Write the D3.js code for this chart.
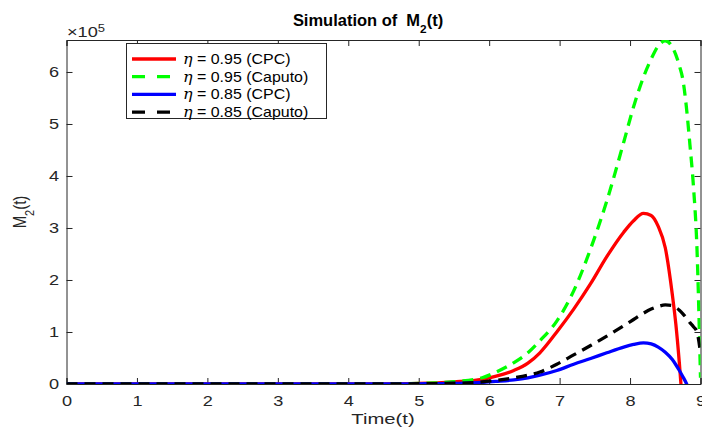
<!DOCTYPE html>
<html>
<head>
<meta charset="utf-8">
<script src="https://cdn.jsdelivr.net/npm/d3@7"></script>
<style>
  html, body { margin: 0; padding: 0; background: #fff; }
  svg { display: block; font-family: "Liberation Sans", Arial, Helvetica, sans-serif; }
  text { white-space: pre; }
</style>
</head>
<body>
<svg id="chart" width="702" height="427"></svg>
<script>
// Simulated M2(t), in units of 1e5
const time = [0, 1, 2, 3, 4, 4.5, 5, 5.5, 5.9, 6.1, 6.35, 6.55, 6.72, 6.96, 7.2, 7.44, 7.67, 7.91, 8.05, 8.19, 8.3, 8.4, 8.5, 8.6, 8.65, 8.7, 8.75, 8.8, 8.85, 8.9, 8.95, 9.0];
const cpc95    = [0, 0, 0, 0, 0.0005, 0.002, 0.01, 0.04, 0.09, 0.15, 0.26, 0.4, 0.6, 1.0, 1.44, 1.93, 2.45, 2.92, 3.14, 3.28, 3.24, 3.03, 2.62, 1.72, 1.15, 0.4, -0.5, -1.4, -2.3, -3.2, -4.1, -5.0];
const caputo95 = [0, 0, 0, 0, 0.0007, 0.003, 0.012, 0.045, 0.12, 0.23, 0.41, 0.6, 0.83, 1.21, 1.79, 2.6, 3.52, 4.65, 5.33, 5.9, 6.25, 6.5, 6.6, 6.48, 6.33, 6.12, 5.85, 5.32, 4.6, 3.8, 2.6, 0.12];
const cpc85    = [0, 0, 0, 0, 0.0002, 0.001, 0.004, 0.012, 0.03, 0.05, 0.08, 0.12, 0.17, 0.26, 0.38, 0.49, 0.6, 0.71, 0.76, 0.79, 0.77, 0.71, 0.61, 0.47, 0.37, 0.26, 0.14, 0.01, -0.16, -0.35, -0.55, -0.8];
const caputo85 = [0, 0, 0, 0, 0.0003, 0.001, 0.005, 0.014, 0.04, 0.07, 0.12, 0.17, 0.23, 0.38, 0.56, 0.74, 0.92, 1.12, 1.24, 1.36, 1.44, 1.49, 1.52, 1.51, 1.47, 1.42, 1.35, 1.27, 1.18, 1.1, 1.0, 0.6];

const seriesNames = ["\u03B7 = 0.95 (CPC)", "\u03B7 = 0.95 (Caputo)", "\u03B7 = 0.85 (CPC)", "\u03B7 = 0.85 (Caputo)"];
const seriesValues = [cpc95, caputo95, cpc85, caputo85];
const seriesColors = ["#ff0000", "#00ff00", "#0000ff", "#000000"];
const seriesDashed = [false, true, false, true];

const xTicks = [0, 1, 2, 3, 4, 5, 6, 7, 8, 9];
const yTicks = [0, 1, 2, 3, 4, 5, 6];

const svg = d3.select("#chart");
const plotLeft = 66.5, plotRight = 700.5, plotTop = 40, plotBottom = 384;
const axisColor = "#262626";
const wide = 1.25; // horizontal widening of the sans text

const x = d3.scaleLinear().domain([0, 9]).range([plotLeft, plotRight]);
const y = d3.scaleLinear().domain([0, 6.615]).range([plotBottom, plotTop]);

svg.append("defs").append("clipPath").attr("id", "plotClip")
  .append("rect").attr("x", plotLeft).attr("y", plotTop)
  .attr("width", plotRight - plotLeft).attr("height", plotBottom - plotTop);

// Axes with inward ticks on all four sides
const tickLen = 6;
const gx = svg.append("g").attr("transform", `translate(0,${plotBottom})`)
  .call(d3.axisBottom(x).tickValues(xTicks).tickSize(-tickLen).tickPadding(9).tickFormat(d3.format("d")));
svg.append("g").attr("transform", `translate(0,${plotTop})`)
  .call(d3.axisTop(x).tickValues(xTicks).tickSize(-tickLen).tickFormat(""));
const gy = svg.append("g").attr("transform", `translate(${plotLeft},0)`)
  .call(d3.axisLeft(y).tickValues(yTicks).tickSize(-tickLen).tickFormat(d3.format("d")));
svg.append("g").attr("transform", `translate(${plotRight},0)`)
  .call(d3.axisRight(y).tickValues(yTicks).tickSize(-tickLen).tickFormat(""));

svg.selectAll(".domain").attr("stroke", axisColor).attr("stroke-width", 1);
svg.selectAll(".tick line").attr("stroke", axisColor).attr("stroke-width", 1);
svg.selectAll(".tick text").attr("fill", axisColor).style("font-size", "14.5px")
  .style("font-family", "'Liberation Sans', Arial, sans-serif");
gx.selectAll(".tick text").attr("y", 12).attr("dy", "0.71em").attr("transform", `scale(${wide},1)`);
gy.selectAll(".tick text").attr("x", -7.5 / wide).attr("transform", `scale(${wide},1)`);

// Curves
const line = d3.line()
  .x((d, i) => x(time[i]))
  .y(d => y(d))
  .curve(d3.curveMonotoneX);

const plot = svg.append("g").attr("clip-path", "url(#plotClip)");
seriesValues.forEach((vals, k) => {
  plot.append("path")
    .datum(vals)
    .attr("d", line)
    .attr("fill", "none")
    .attr("stroke", seriesColors[k])
    .attr("stroke-width", 3.3)
    .attr("stroke-dasharray", seriesDashed[k] ? "11,7" : null);
});

// Title and axis labels
const title = svg.append("text").attr("transform", "translate(368,26) scale(1.03,1)")
  .attr("text-anchor", "middle").attr("font-weight", "bold")
  .style("font-size", "16px").attr("fill", "#000");
title.append("tspan").text("Simulation of  M");
title.append("tspan").attr("baseline-shift", "sub").style("font-size", "11.5px").text("2");
title.append("tspan").text("(t)");

const mult = svg.append("text").attr("transform", "translate(67,37) scale(1.3,1)")
  .style("font-size", "14px").attr("fill", axisColor);
mult.append("tspan").text("\u00D710");
mult.append("tspan").attr("baseline-shift", "super").style("font-size", "10px").text("5");

svg.append("text").attr("transform", "translate(383,424) scale(1.35,1)")
  .attr("text-anchor", "middle").style("font-size", "15px").attr("fill", axisColor)
  .text("Time(t)");

const yl = svg.append("text")
  .attr("transform", `translate(26,${(plotTop + plotBottom) / 2}) rotate(-90) scale(1,1.2)`)
  .attr("text-anchor", "middle").style("font-size", "15px").attr("fill", axisColor);
yl.append("tspan").text("M");
yl.append("tspan").attr("baseline-shift", "sub").style("font-size", "11px").text("2");
yl.append("tspan").text("(t)");

// Legend
const lg = svg.append("g");
lg.append("rect").attr("x", 126.5).attr("y", 43.5).attr("width", 200).attr("height", 75)
  .attr("fill", "#fff").attr("stroke", axisColor).attr("stroke-width", 1);
seriesNames.forEach((name, k) => {
  const yy = 59 + k * 17.7;
  lg.append("line").attr("x1", 132).attr("x2", 176).attr("y1", yy).attr("y2", yy)
    .attr("stroke", seriesColors[k]).attr("stroke-width", 3.3)
    .attr("stroke-dasharray", seriesDashed[k] ? "13,12" : null);
  const t = lg.append("text").attr("transform", `translate(183,${yy + 5}) scale(1.14,1)`)
    .style("font-size", "14px").attr("fill", "#000");
  t.append("tspan").attr("font-style", "italic").style("font-family", "'DejaVu Serif', 'Liberation Serif', serif").text("\u03B7");
  t.append("tspan").text(name.slice(1));
});
</script>
</body>
</html>
